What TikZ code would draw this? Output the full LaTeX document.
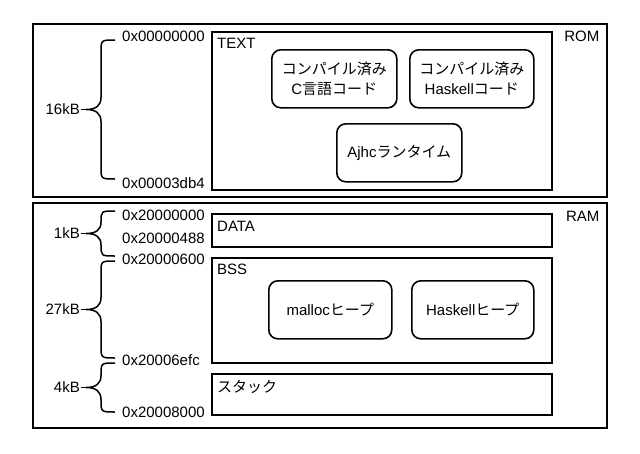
\documentclass[tikz,border=0pt]{standalone}
\usepackage{fontspec}
\setmainfont{Liberation Sans}
\newfontfamily\jp{Noto Sans CJK JP}
\usetikzlibrary{positioning}

% size brace: name, top y, bottom y, label
\newcommand{\sizebrace}[4]{%
  \pgfmathsetmacro{\bmid}{(#2+#3)/2}%
  \pgfmathsetmacro{\brad}{min(12,(#3-#2)/4)}%
  \draw[sizebr] (115,#2) .. controls (101,#2) .. (101,#2+\brad)
    -- (101,\bmid-\brad) .. controls (101,\bmid-\brad/3) and (96,\bmid) .. (86,\bmid)
    .. controls (96,\bmid) and (101,\bmid+\brad/3) .. (101,\bmid+\brad)
    -- (101,#3-\brad) .. controls (101,#3) .. (115,#3);
  \coordinate (#1tip) at (86,\bmid);
  \node[size] (#1) at (81,\bmid) {#4};
  \draw[sizebr] (#1.east) -- (#1tip);
}

\begin{document}
\begin{tikzpicture}[
  x=1pt, y=-1pt,
  font=\fontsize{15}{20}\selectfont,
  every node/.style={inner sep=1pt},
  memory/.style={draw, line width=1.6pt, anchor=north west, inner sep=0pt, minimum width=574},
  segment/.style={draw, line width=1.6pt, anchor=north west, inner sep=0pt, minimum width=340},
  block/.style={draw, line width=1.6pt, rounded corners=9pt, align=center, anchor=north west,
    inner sep=0pt, minimum height=58},
  tag/.style={anchor=base west},
  areatag/.style={anchor=base east},
  addr/.style={anchor=west, inner sep=2pt},
  size/.style={anchor=east},
  sizebr/.style={line width=1.5pt},
]
\useasboundingbox (0,0) rectangle (640,453);

% ── ROM ──────────────────────────────────────────────
\node[memory, minimum height=173] (rom) at (32,23) {};
\node[areatag] (romlbl) at ([shift={(-7,18)}]rom.north east) {ROM};
\node[segment, minimum height=158] (text) at (211,31) {};
\node[tag] (textlbl) at ([shift={(5,17)}]text.north west) {TEXT};
\node[block, minimum width=125] (ccode) at (271,49)
  {{\jp コンパイル済み}\\C{\jp 言語コード}};
\node[block, minimum width=124] (hscode) at (409,49)
  {{\jp コンパイル済み}\\Haskell{\jp コード}};
\node[block, minimum width=125] (rts) at (336,123) {Ajhc{\jp ランタイム}};

% ── RAM ──────────────────────────────────────────────
\node[memory, minimum height=225] (ram) at (32,202) {};
\node[areatag] (ramlbl) at ([shift={(-7,19)}]ram.north east) {RAM};
\node[segment, minimum height=33] (data) at (211,213) {};
\node[tag] (datalbl) at ([shift={(5,18)}]data.north west) {DATA};
\node[segment, minimum height=105] (bss) at (211,257) {};
\node[tag] (bsslbl) at ([shift={(5,17)}]bss.north west) {BSS};
\node[block, minimum width=123] (mheap) at (268,280) {malloc{\jp ヒープ}};
\node[block, minimum width=122] (hsheap) at (411,280) {Haskell{\jp ヒープ}};
\node[segment, minimum height=41] (stack) at (211,373) {};
\node[tag] (stacklbl) at ([shift={(5,19)}]stack.north west) {\jp スタック};

% ── addresses ────────────────────────────────────────
\foreach \nm/\y/\addrtxt in {a0/36/0x00000000, a1/183/0x00003db4,
    a2/215.5/0x20000000, a3/238.5/0x20000488, a4/259/0x20000600,
    a5/360/0x20006efc, a6/412/0x20008000}
  \node[addr] (\nm) at (120,\y) {\addrtxt};

% ── sizes ────────────────────────────────────────────
\sizebrace{romsize}{40}{179}{16kB}
\sizebrace{datasize}{211}{256}{1kB}
\sizebrace{bsssize}{261}{358}{27kB}
\sizebrace{stacksize}{363}{412}{4kB}

\end{tikzpicture}
\end{document}
